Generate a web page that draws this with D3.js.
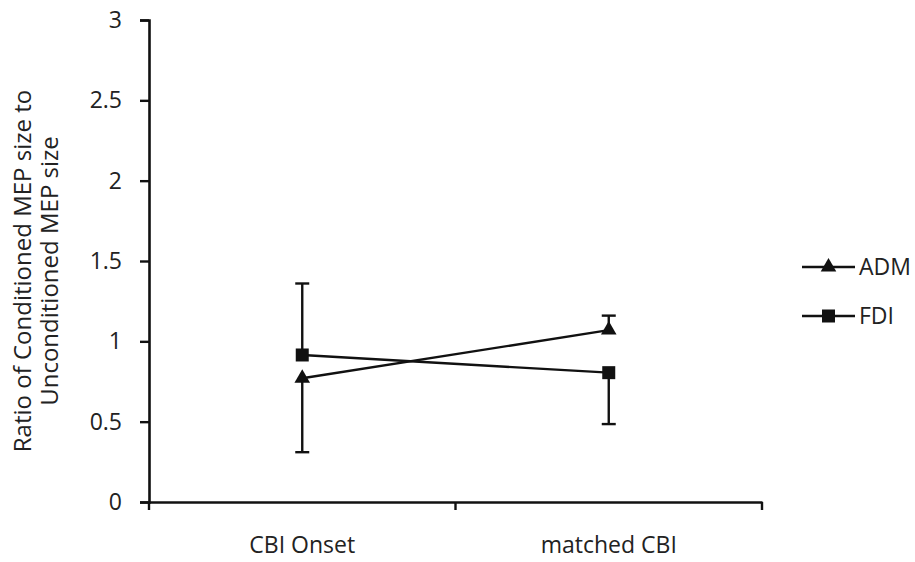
<!DOCTYPE html>
<html>
<head>
<meta charset="utf-8">
<script src="https://cdn.jsdelivr.net/npm/d3@7/dist/d3.min.js"></script>
<style>
  html, body { margin: 0; padding: 0; background: #fff; }
  svg { display: block; }
  text { font-family: "Open Sans", "Noto Sans", sans-serif; fill: #222; }
</style>
</head>
<body>
<svg id="chart" width="915" height="562"></svg>
<script>
const categories = ["CBI Onset", "matched CBI"];
const seriesNames = ["ADM", "FDI"];
const admValues = [0.77, 1.07];
const fdiValues = [0.915, 0.805];
const admErrPlus = [0, 0.09];
const admErrMinus = [0.46, 0];
const fdiErrPlus = [0.445, 0];
const fdiErrMinus = [0, 0.32];
const yTicks = [0, 0.5, 1, 1.5, 2, 2.5, 3];

const series = [
  { name: seriesNames[0], values: admValues, plus: admErrPlus, minus: admErrMinus, symbol: d3.symbolTriangle, size: 105 },
  { name: seriesNames[1], values: fdiValues, plus: fdiErrPlus, minus: fdiErrMinus, symbol: d3.symbolSquare, size: 169 }
];

const svg = d3.select("#chart");
const mLeft = 149, mRight = 762, mTop = 20, mBottom = 502;
const x = d3.scaleBand().domain(categories).range([mLeft, mRight]);
const y = d3.scaleLinear().domain([0, 3]).range([mBottom, mTop]);
const ink = "#111";
const fs = 23;

// Y axis
const yAxis = svg.append("g").attr("transform", `translate(${mLeft},0)`)
  .call(d3.axisLeft(y).tickValues(yTicks).tickSize(9).tickPadding(18).tickFormat(d => d));
yAxis.select(".domain").attr("stroke", ink).attr("stroke-width", 2.6);
yAxis.selectAll(".tick line").attr("stroke", ink).attr("stroke-width", 2.4);
yAxis.selectAll(".tick text").attr("font-size", fs).attr("fill", "#222");

// X axis
const xAxis = svg.append("g").attr("transform", `translate(0,${mBottom})`)
  .call(d3.axisBottom(x).tickSize(0).tickPadding(35));
xAxis.select(".domain").attr("stroke", ink).attr("stroke-width", 2.6);
xAxis.selectAll(".tick text").attr("font-size", fs).attr("fill", "#222");
// tick marks at band boundaries
const bounds = [mLeft, x(categories[1]), mRight];
svg.append("g").selectAll("line").data(bounds).join("line")
  .attr("x1", d => d).attr("x2", d => d)
  .attr("y1", mBottom).attr("y2", mBottom + 8)
  .attr("stroke", ink).attr("stroke-width", 2.4);

const cx = c => x(c) + x.bandwidth() / 2;

// Y axis title
const title = svg.append("text").attr("transform", `translate(31,271) rotate(-90)`)
  .attr("text-anchor", "middle").attr("font-size", 24);
title.append("tspan").attr("x", 0).attr("dy", 0).text("Ratio of Conditioned MEP size to");
title.append("tspan").attr("x", 0).attr("dy", 27).text("Unconditioned MEP size");

// Error bars
const cap = 7;
series.forEach(s => {
  const g = svg.append("g");
  categories.forEach((c, i) => {
    const v = s.values[i];
    [[s.plus[i], 1], [s.minus[i], -1]].forEach(([e, dir]) => {
      if (e > 0) {
        const end = v + dir * e;
        g.append("line").attr("x1", cx(c)).attr("x2", cx(c))
          .attr("y1", y(v)).attr("y2", y(end)).attr("stroke", ink).attr("stroke-width", 2.4);
        g.append("line").attr("x1", cx(c) - cap).attr("x2", cx(c) + cap)
          .attr("y1", y(end)).attr("y2", y(end)).attr("stroke", ink).attr("stroke-width", 2.4);
      }
    });
  });
});

// Lines and markers
const line = d3.line().x((d, i) => cx(categories[i])).y(d => y(d));
series.forEach(s => {
  svg.append("path").datum(s.values).attr("d", line)
    .attr("fill", "none").attr("stroke", ink).attr("stroke-width", 2.4);
  svg.append("g").selectAll("path").data(s.values).join("path")
    .attr("transform", (d, i) => `translate(${cx(categories[i])},${y(d)})`)
    .attr("d", d3.symbol().type(s.symbol).size(s.size))
    .attr("fill", ink);
});

// Legend
const legend = svg.append("g");
series.forEach((s, i) => {
  const ly = 267 + i * 49;
  legend.append("line").attr("x1", 802).attr("x2", 855).attr("y1", ly).attr("y2", ly)
    .attr("stroke", ink).attr("stroke-width", 2.4);
  legend.append("path").attr("transform", `translate(828.5,${ly})`)
    .attr("d", d3.symbol().type(s.symbol).size(s.size))
    .attr("fill", ink);
  legend.append("text").attr("x", 859).attr("y", ly).attr("dy", "0.36em")
    .attr("font-size", fs).text(s.name);
});
</script>
</body>
</html>
